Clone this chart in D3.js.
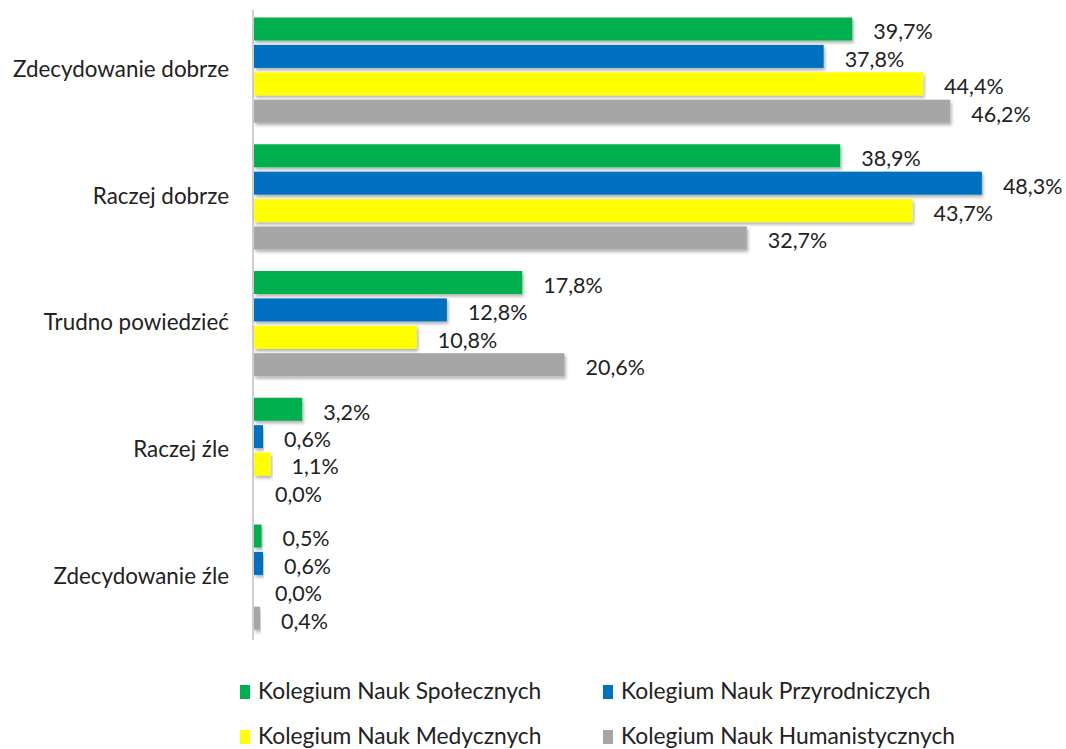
<!DOCTYPE html>
<html>
<head>
<meta charset="utf-8">
<script src="https://cdn.jsdelivr.net/npm/d3@7"></script>
<style>
  body { margin: 0; background: #fff; }
  svg { display: block; font-family: Lato, "Open Sans", sans-serif; }
</style>
</head>
<body>
<svg width="1066" height="749"></svg>
<script>
// answers (top to bottom)
const categories = ["Zdecydowanie dobrze", "Raczej dobrze", "Trudno powiedzieć", "Raczej źle", "Zdecydowanie źle"];
// colleges, in bar order inside each group
const series = ["Kolegium Nauk Społecznych", "Kolegium Nauk Przyrodniczych", "Kolegium Nauk Medycznych", "Kolegium Nauk Humanistycznych"];
const colors = ["#00b050", "#0070c0", "#ffff00", "#a6a6a6"];
// percent values, one array per college
const spoleczne = [39.7, 38.9, 17.8, 3.2, 0.5];
const przyrodnicze = [37.8, 48.3, 12.8, 0.6, 0.6];
const medyczne = [44.4, 43.7, 10.8, 1.1, 0.0];
const humanistyczne = [46.2, 32.7, 20.6, 0.0, 0.4];
const values = [spoleczne, przyrodnicze, medyczne, humanistyczne];

const svg = d3.select("svg");

// soft shadow under the bars
const defs = svg.append("defs");
const f = defs.append("filter").attr("id", "shadow")
    .attr("x", "-5%").attr("y", "-20%").attr("width", "115%").attr("height", "160%");
f.append("feDropShadow").attr("dx", 1.5).attr("dy", 2.5).attr("stdDeviation", 1.5)
    .attr("flood-color", "#000").attr("flood-opacity", 0.3);

const x = d3.scaleLinear().domain([0, 50]).range([254, 254 + 753.5]);
const y = d3.scaleBand().domain(categories).range([17.5, 629.7])
    .paddingInner(0.17).paddingOuter(0);
const ySub = d3.scaleBand().domain(series).range([0, y.bandwidth()]).paddingInner(0.16);

// axis line
svg.append("line")
    .attr("x1", 253).attr("x2", 253).attr("y1", 10).attr("y2", 640)
    .attr("stroke", "#d0d0d0").attr("stroke-width", 2);

// rows of data
let rows = [];
categories.forEach(function(c, i) {
    series.forEach(function(s, j) {
        rows.push({cat: c, ser: s, v: values[j][i], color: colors[j]});
    });
});

const groups = svg.selectAll("g.grp").data(rows).enter().append("g").attr("class", "grp");

groups.filter(d => d.v > 0).append("rect")
    .attr("x", x(0))
    .attr("y", d => y(d.cat) + ySub(d.ser))
    .attr("width", d => x(d.v) - x(0))
    .attr("height", ySub.bandwidth())
    .attr("fill", d => d.color)
    .attr("filter", "url(#shadow)");

groups.append("text")
    .attr("x", d => x(d.v) + 21)
    .attr("y", d => y(d.cat) + ySub(d.ser) + ySub.bandwidth() / 2 + 5)
    .attr("dominant-baseline", "middle")
    .attr("font-size", 21.5)
    .attr("fill", "#222")
    .text(d => d.v.toFixed(1).replace(".", ",") + "%");

// category labels
svg.selectAll("text.cat").data(categories).enter().append("text")
    .attr("class", "cat")
    .attr("x", 229)
    .attr("y", d => y(d) + y.bandwidth() / 2 + 1)
    .attr("text-anchor", "end")
    .attr("dominant-baseline", "middle")
    .attr("font-size", 22.4)
    .attr("fill", "#222")
    .text(d => d);

// legend
const legendPos = [[240, 692], [603, 692], [240, 737], [603, 737]];
series.forEach(function(s, j) {
    const p = legendPos[j];
    svg.append("rect")
        .attr("x", p[0]).attr("y", p[1] - 7).attr("width", 10).attr("height", 14)
        .attr("fill", colors[j]);
    svg.append("text")
        .attr("x", p[0] + 18).attr("y", p[1] + 1)
        .attr("dominant-baseline", "middle")
        .attr("font-size", 22.8)
        .attr("fill", "#222")
        .text(s);
});
</script>
</body>
</html>
